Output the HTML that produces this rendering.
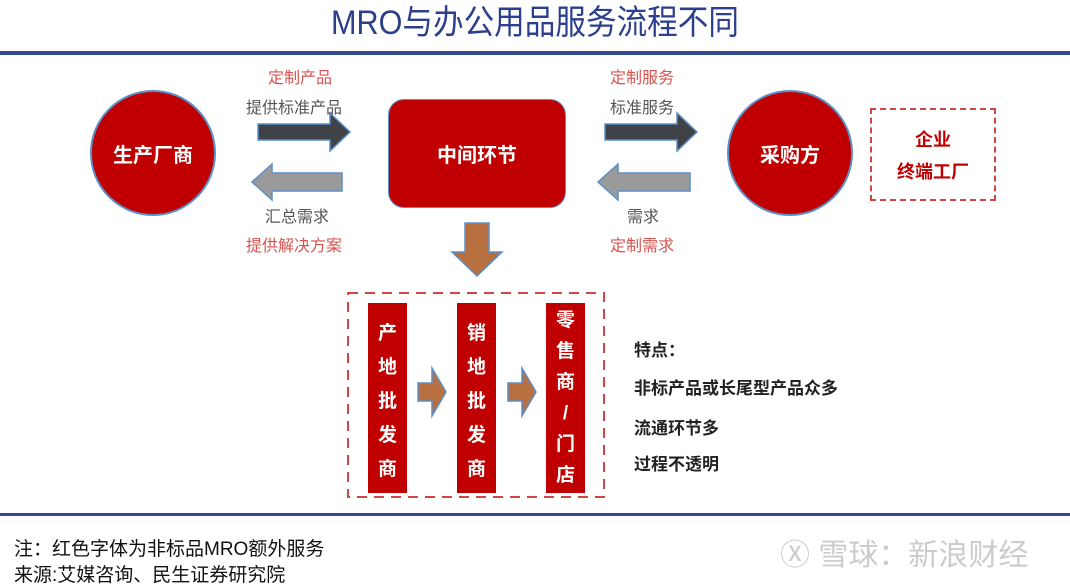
<!DOCTYPE html>
<html><head><meta charset="utf-8"><style>
body{margin:0;width:1070px;height:584px;background:#fff;position:relative;overflow:hidden;font-family:"Liberation Sans","Noto Sans CJK SC",sans-serif}
.a{position:absolute}
.t{position:absolute;white-space:nowrap}
.circ{position:absolute;border-radius:50%;background:#c00000;border:2px solid #5b8fc7;color:#fff;font-weight:bold;font-size:20px;display:flex;align-items:center;justify-content:center}
.col{position:absolute;width:39px;background:#c00000;color:#fff;font-weight:bold;font-size:19px;text-align:center;line-height:34px;box-sizing:border-box;padding-top:14px}
.red{color:#d9534f;font-size:16px}
.gr{color:#555;font-size:16px}
.pt{font-size:17px;font-weight:bold;color:#222}
</style></head><body>
<div class="t" style="left:0;width:1070px;top:0;text-align:center;font-size:34px;color:#2c3f8c;line-height:46px;transform:scaleX(0.9)">MRO与办公用品服务流程不同</div>
<div class="a" style="left:0;top:51px;width:1070px;height:4px;background:#34498e"></div>
<div class="a" style="left:0;top:513px;width:1070px;height:3px;background:#34498e"></div>

<div class="circ" style="left:90px;top:90px;width:122px;height:122px">生产厂商</div>
<div class="circ" style="left:727px;top:90px;width:122px;height:122px">采购方</div>
<div class="a" style="left:388px;top:99px;width:176px;height:107px;background:#c00000;border:1.5px solid #5b8fc7;border-radius:16px;color:#fff;font-weight:bold;font-size:20px;display:flex;align-items:center;justify-content:center">中间环节</div>
<div class="a" style="left:870px;top:108px;width:126px;height:93px;border:2px dashed #d04545;box-sizing:border-box;color:#c00000;font-weight:bold;font-size:18px;text-align:center;line-height:32px;padding-top:14px">企业<br>终端工厂</div>

<svg class="a" style="left:0;top:0" width="1070" height="584">
<g stroke="#5b8fc7" stroke-width="1.5">
<polygon points="258,124 330,124 330,113 350,132 330,151 330,140 258,140" fill="#3f4348"/>
<polygon points="342,173 272,173 272,164 252,182 272,200 272,191 342,191" fill="#9a9a9a"/>
<polygon points="605,124 677,124 677,113 697,132 677,151 677,140 605,140" fill="#3f4348"/>
<polygon points="690,173 618,173 618,164 598,182 618,200 618,191 690,191" fill="#9a9a9a"/>
<polygon points="465,223 489,223 489,252 502,252 477,276 452,252 465,252" fill="#b87040"/>
<polygon points="418,383 432,383 432,368 446,392 432,416 432,401 418,401" fill="#b87040"/>
<polygon points="508,383 522,383 522,368 536,392 522,416 522,401 508,401" fill="#b87040"/>
</g>
<rect x="348" y="293" width="256" height="204" fill="none" stroke="#d04545" stroke-width="2" stroke-dasharray="10,7"/>
</svg>

<div class="t red" style="left:268px;top:64px">定制产品</div>
<div class="t gr" style="left:246px;top:94px">提供标准产品</div>
<div class="t gr" style="left:265px;top:203px">汇总需求</div>
<div class="t red" style="left:246px;top:232px">提供解决方案</div>
<div class="t red" style="left:610px;top:64px">定制服务</div>
<div class="t gr" style="left:610px;top:94px">标准服务</div>
<div class="t gr" style="left:627px;top:203px">需求</div>
<div class="t red" style="left:610px;top:232px">定制需求</div>

<div class="col" style="left:368px;top:303px;height:190px">产<br>地<br>批<br>发<br>商</div>
<div class="col" style="left:457px;top:303px;height:190px">销<br>地<br>批<br>发<br>商</div>
<div class="col" style="left:546px;top:303px;height:190px;padding-top:2px;line-height:31px">零<br>售<br>商<br>/<br>门<br>店</div>

<div class="t pt" style="left:634px;top:336px">特点：</div>
<div class="t pt" style="left:634px;top:374px">非标产品或长尾型产品众多</div>
<div class="t pt" style="left:634px;top:414px">流通环节多</div>
<div class="t pt" style="left:634px;top:450px">过程不透明</div>

<div class="t" style="left:14px;top:534px;font-size:19px;color:#111">注：红色字体为非标品MRO额外服务</div>
<div class="t" style="left:14px;top:560px;font-size:19px;color:#111">来源:艾媒咨询、民生证券研究院</div>
<div class="t" style="left:780px;top:530px;font-size:30px;color:#ccc">Ⓧ 雪球：新浪财经</div>
</body></html>
